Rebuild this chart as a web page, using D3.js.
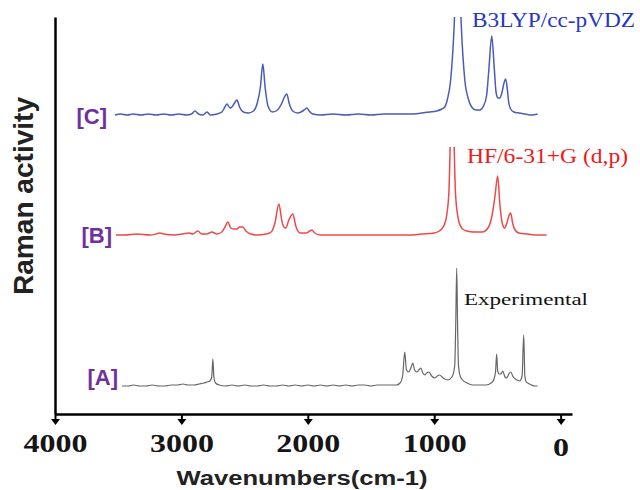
<!DOCTYPE html>
<html>
<head>
<meta charset="utf-8">
<script src="https://cdn.jsdelivr.net/npm/d3@7"></script>
<style>
  body { margin: 0; background: #fff; }
  svg { display: block; }
</style>
</head>
<body>
<div id="chart"></div>
<script>
// spectra: [wavenumber (cm-1), relative Raman intensity]
const specA = [
  [3470,0],[3420,0],[3380,1],[3330,0],[3280,0],[3230,1],[3180,0],[3130,0],[3080,1],[3030,1],
  [2988,2],[2950,1],[2900,1],[2860,2],[2820,3],[2798,4],[2775,5],[2760,9],[2751,27],[2743,9],
  [2730,3],[2700,1],[2650,0],[2600,1],[2550,0],[2500,1],[2450,0],[2400,0],[2350,1],[2300,0],
  [2250,0],[2200,1],[2150,0],[2100,1],[2050,0],[2000,1],[1950,0],[1900,1],[1850,0],[1800,1],
  [1750,0],[1700,1],[1650,0],[1600,1],[1550,1],[1500,0],[1450,1],[1400,1],[1350,1],[1300,1],
  [1270,3],[1250,10],[1233,34],[1220,16],[1202,14],[1185,18],[1170,23],[1155,16],[1138,14],
  [1122,16],[1107,18],[1090,13],[1075,11],[1060,13],[1043,14],[1020,10],[996,8],[975,10],
  [957,11],[930,8],[893,6],[860,9],[838,20],[830,60],[822,118],[815,60],[808,20],[795,10],
  [775,6],[740,3],[696,1],[640,1],[590,1],[550,3],[530,6],[515,14],[506,32],[498,15],[485,12],
  [474,12],[458,15],[440,9],[427,8],[410,12],[395,14],[375,9],[345,6],[324,5],[305,10],
  [292,51],[283,10],[272,4],[261,3],[230,1],[200,0],[182,0]
];

const specB = [
  [3518,0],[3450,0],[3350,1],[3250,0],[3200,1],[3170,2],[3140,1],[3060,0],[2990,1],[2941,2],
  [2910,1],[2870,4],[2840,1],[2800,1],[2759,3],[2720,1],[2680,3],[2655,8],[2632,13],[2610,7],
  [2590,6],[2561,6],[2540,8],[2514,8],[2490,4],[2450,1],[2400,0],[2330,1],[2290,3],[2260,12],
  [2229,31],[2205,14],[2190,8],[2174,7],[2150,15],[2119,21],[2095,9],[2060,2],[2010,2],
  [1985,4],[1968,5],[1945,2],[1900,0],[1800,0],[1700,0],[1600,0],[1500,0],[1400,0],[1300,0],
  [1200,0],[1100,1],[1000,2],[960,4],[941,6],[910,14],[885,40],[858,150],[831,40],[806,14],
  [775,6],[740,4],[690,3],[620,3],[575,7],[545,18],[520,38],[498,59],[480,30],[462,12],
  [443,7],[425,12],[410,19],[395,22],[380,12],[360,5],[330,2],[260,1],[180,0],[111,0]
];

const specC = [
  [3526,0],[3480,1],[3430,0],[3380,1],[3320,0],[3260,1],[3200,0],[3140,1],[3080,0],[3020,1],
  [2960,0],[2920,1],[2893,4],[2865,1],[2830,0],[2798,3],[2770,0],[2720,1],[2680,3],[2660,7],
  [2640,11],[2615,7],[2600,8],[2580,12],[2561,15],[2540,8],[2510,3],[2470,2],[2430,4],
  [2400,12],[2375,28],[2356,51],[2338,28],[2315,9],[2280,3],[2240,5],[2205,12],[2185,18],
  [2166,21],[2148,12],[2120,4],[2080,2],[2040,4],[2020,6],[2008,7],[1990,4],[1960,1],
  [1900,0],[1800,1],[1700,0],[1600,1],[1500,0],[1400,1],[1300,1],[1200,1],[1100,2],[1040,3],
  [980,4],[940,6],[917,8],[895,16],[870,35],[842,90],[814,200],[786,90],[758,35],[730,16],
  [704,8],[670,5],[640,5],[610,9],[585,20],[568,45],[545,79],[524,45],[510,22],[495,17],
  [482,17],[465,22],[448,32],[435,36],[422,26],[410,12],[395,6],[370,3],[330,2],[280,1],
  [230,0],[182,1]
];

const seriesNames = ["[A]", "[B]", "[C]"];
const methodLabels = ["Experimental", "HF/6-31+G (d,p)", "B3LYP/cc-pVDZ"];
const offsets = [28, 179, 299];      // vertical stacking of the spectra
const ceilings = [397, 267, 397];    // where each trace was cut off in the figure
const xTicks = [4000, 3000, 2000, 1000, 0];

const width = 640, height = 490;
const colors = ["#666666", "#f04848", "#4a5cb8"];
const labelColors = ["#111111", "#f01818", "#2436c8"];
const labelPos = [[464, 305, 124], [467, 163, 161], [472, 27, 163]];
const namePos = [[118, 385], [112, 243], [107, 124]];

const x = d3.scaleLinear().domain([4000, -90]).range([55, 572]);
const y = d3.scaleLinear().domain([0, 397]).range([414, 17]);

const svg = d3.select("#chart").append("svg")
  .attr("width", width)
  .attr("height", height);

const spectra = [specA, specB, specC];

const line = d3.line()
  .x(d => x(d[0]))
  .y(d => y(d[1]))
  .curve(d3.curveMonotoneX);

spectra.forEach((s, i) => {
  const id = "clip" + i;
  svg.append("clipPath").attr("id", id)
    .append("rect")
    .attr("x", 0).attr("y", y(ceilings[i]))
    .attr("width", width).attr("height", height);

  svg.append("path")
    .datum(s.map(d => [d[0], d[1] + offsets[i]]))
    .attr("clip-path", `url(#${id})`)
    .attr("fill", "none")
    .attr("stroke", colors[i])
    .attr("stroke-width", i === 0 ? 1.2 : 1.5)
    .attr("stroke-linejoin", "round")
    .attr("d", line);

  svg.append("text")
    .attr("x", namePos[i][0]).attr("y", namePos[i][1])
    .attr("text-anchor", "end")
    .attr("font-family", "Liberation Sans, Arial, sans-serif")
    .attr("font-weight", "bold")
    .attr("font-size", 22)
    .attr("fill", "#7030a0")
    .text(seriesNames[i]);

  svg.append("text")
    .attr("x", labelPos[i][0]).attr("y", labelPos[i][1])
    .attr("font-family", "Liberation Serif, 'Times New Roman', serif")
    .attr("font-size", i === 0 ? 17 : 20)
    .attr("fill", labelColors[i])
    .attr("textLength", labelPos[i][2])
    .attr("lengthAdjust", "spacingAndGlyphs")
    .text(methodLabels[i]);
});

// y axis: plain line
svg.append("g")
  .attr("transform", `translate(${x(4000)},0)`)
  .call(d3.axisLeft(y).tickValues([]).tickSizeOuter(0))
  .call(g => g.select(".domain").attr("stroke-width", 2.5));

// x axis with arrow ticks
const xAxis = svg.append("g")
  .attr("transform", `translate(0,${y(0)})`)
  .call(d3.axisBottom(x).tickValues(xTicks).tickSize(7).tickSizeOuter(0).tickFormat(d3.format("d")))
  .call(g => g.select(".domain").attr("stroke-width", 2.5));

xAxis.selectAll(".tick line").attr("stroke-width", 2);
xAxis.selectAll(".tick").append("path")
  .attr("d", "M-4.5,5 L4.5,5 L0,11 Z")
  .attr("fill", "#000");
xAxis.selectAll(".tick text")
  .attr("y", d => d === 0 ? 42 : 38)
  .attr("dy", null)
  .attr("font-family", "Liberation Serif, 'Times New Roman', serif")
  .attr("font-weight", "bold")
  .attr("font-size", 26)
  .attr("fill", "#151515")
  .attr("textLength", d => String(d).length * 16)
  .attr("lengthAdjust", "spacingAndGlyphs");

svg.append("text")
  .attr("x", 302).attr("y", 485)
  .attr("text-anchor", "middle")
  .attr("font-family", "Liberation Sans, Arial, sans-serif")
  .attr("font-weight", "bold")
  .attr("font-size", 20)
  .attr("fill", "#222")
  .attr("textLength", 251)
  .attr("lengthAdjust", "spacingAndGlyphs")
  .text("Wavenumbers(cm-1)");

svg.append("text")
  .attr("transform", "translate(33,196) rotate(-90)")
  .attr("text-anchor", "middle")
  .attr("font-family", "Liberation Sans, Arial, sans-serif")
  .attr("font-weight", "bold")
  .attr("font-size", 27)
  .attr("fill", "#222")
  .attr("textLength", 198)
  .attr("lengthAdjust", "spacingAndGlyphs")
  .text("Raman activity");
</script>
</body>
</html>
